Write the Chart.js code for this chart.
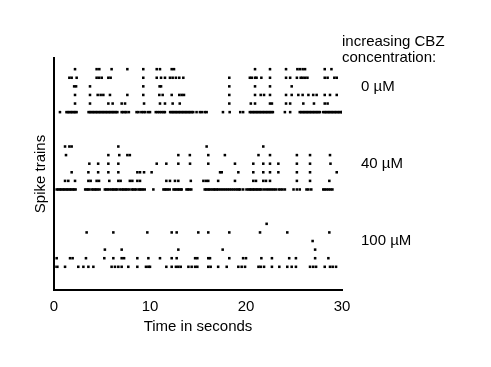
<!DOCTYPE html>
<html>
<head>
<meta charset="utf-8">
<script src="https://cdn.jsdelivr.net/npm/chart.js@4.4.1/dist/chart.umd.min.js"></script>
<style>
  html, body { margin: 0; padding: 0; background: #fff; }
  #wrap { width: 491px; height: 367px; }
</style>
</head>
<body>
<div id="wrap"><canvas id="raster"></canvas></div>
<script>
// Spike times (seconds), top train of each block first
const spikes0uM = [
    [2.19, 4.44, 4.72, 6.0, 7.64, 9.3, 10.7, 11.04, 12.26, 12.5, 20.94, 22.5, 24.17, 25.35, 25.6, 25.9, 26.15, 28.2, 28.9],
    [1.6, 1.84, 2.36, 4.44, 4.69, 4.97, 5.66, 5.9, 9.3, 10.7, 11.15, 11.56, 12.08, 12.36, 12.7, 13.05, 13.47, 18.26, 20.4, 20.6, 20.94, 21.1, 21.6, 22.5, 24.17, 24.6, 25.3, 25.7, 25.9, 26.15, 26.4, 28.2, 28.5, 29.2, 29.45],
    [2.1, 2.3, 3.75, 9.3, 11.0, 11.15, 18.26, 20.94, 22.5, 24.76],
    [2.19, 3.75, 4.55, 4.86, 5.14, 5.83, 7.64, 9.3, 10.97, 11.32, 12.26, 13.05, 13.3, 13.54, 18.26, 20.94, 21.53, 21.88, 22.5, 24.17, 24.76, 25.45, 25.9, 26.5, 27.0, 27.36, 28.2, 28.75, 29.45],
    [2.19, 3.75, 5.66, 6.11, 7.05, 7.4, 9.38, 11.04, 11.56, 12.36, 13.1, 18.26, 20.5, 20.94, 22.5, 22.7, 24.17, 24.6, 25.97, 27.08, 28.2, 28.5],
    [0.62, 1.3, 1.45, 1.6, 1.75, 1.9, 2.05, 2.2, 2.35,
     3.6, 3.75, 3.9, 4.05, 4.2, 4.35, 4.5, 4.65, 4.8, 4.95, 5.1, 5.25, 5.4, 5.55, 5.7, 5.85, 6.0, 6.15, 6.3, 6.45, 6.6,
     7.05, 7.2, 7.4, 7.55, 7.8, 8.6, 8.8, 9.1, 9.3, 9.5, 9.8, 10.0,
     10.6, 10.8, 11.0, 11.2, 11.4, 11.55,
     12.1, 12.25, 12.4, 12.55, 12.7, 12.85, 13.0, 13.15, 13.3, 13.45, 13.6, 13.75, 13.9, 14.05, 14.2, 14.35,
     14.5, 14.85, 15.2, 15.4, 15.7, 15.9, 17.6, 18.3, 19.4, 19.7,
     20.4, 20.55, 20.7, 20.85, 21.0, 21.15, 21.3, 21.45, 21.6, 21.75, 21.9, 22.05, 22.2, 22.35, 22.5, 22.65, 22.8,
     24.05, 24.6,
     25.6, 25.75, 25.9, 26.05, 26.2, 26.35, 26.5, 26.65, 26.8, 26.95, 27.1, 27.25, 27.4, 27.55, 27.7,
     28.05, 28.2, 28.35, 28.5, 28.65, 28.8, 28.95, 29.1, 29.25, 29.4, 29.55, 29.7, 29.85, 30.0]
];

const spikes40uM = [
    [1.15, 1.6, 1.84, 6.7, 15.9, 21.8],
    [1.25, 5.66, 6.8, 7.64, 7.9, 12.95, 14.15, 16.07, 17.8, 21.3, 22.5, 25.3, 26.67, 28.75],
    [3.68, 4.6, 5.66, 6.7, 10.7, 11.7, 12.95, 14.17, 16.07, 18.85, 20.76, 21.8, 22.5, 23.37, 25.3, 26.67, 28.8],
    [1.84, 3.58, 4.6, 5.66, 6.7, 8.68, 8.96, 9.38, 10.17, 17.3, 17.47, 19.2, 20.76, 21.8, 22.5, 23.37, 25.3, 26.67, 29.45],
    [1.15, 1.49, 2.19, 3.58, 3.82, 4.44, 4.69, 5.76, 6.7, 6.94, 7.9, 8.16, 8.68, 8.96, 11.7, 12.08, 12.6, 12.95, 14.25, 15.56, 15.83, 16.07, 17.1, 18.85, 20.76, 21.04, 21.8, 22.08, 22.5, 25.3, 26.67, 28.68],
    [0.28, 0.45, 0.6, 0.75, 0.9, 1.05, 1.2, 1.35, 1.5, 1.65, 1.8, 1.95, 2.1, 2.25,
     3.25, 3.4, 3.55, 3.7, 3.95, 4.1, 4.25, 4.4, 4.55, 4.75,
     5.3, 5.45, 5.6, 5.8, 6.0, 6.15, 6.3, 6.45, 6.6, 6.85,
     7.05, 7.2, 7.35, 7.5, 7.65, 7.85, 8.1, 8.25, 8.4, 8.55,
     8.8, 8.95, 9.1, 9.25, 9.45, 10.35,
     11.4, 11.55, 11.7, 11.85, 12.05, 12.45, 12.6, 12.75, 12.9, 13.05, 13.2, 13.3,
     13.8, 13.95, 14.1, 14.3,
     15.7, 15.85, 16.0, 16.15, 16.3, 16.5, 16.65, 16.8, 16.95,
     17.1, 17.3, 17.5, 17.7, 17.9, 18.1, 18.3, 18.5, 18.7, 18.9, 19.1, 19.25, 19.4,
     19.7, 20.05, 20.25, 20.4, 20.55, 20.7, 20.85, 21.0, 21.15, 21.3, 21.45,
     21.6, 21.85, 22.1, 22.3, 22.5, 22.7, 22.9, 23.1, 23.4, 23.6, 23.8, 24.05,
     24.95, 25.3, 25.6, 26.3, 26.5, 26.8,
     28.05, 28.2, 28.4, 28.6, 28.8, 29.0]
];

const spikes100uM = [
    [22.15],
    [3.4, 6.18, 9.72, 12.26, 12.78, 15.03, 16.07, 18.26, 21.46, 24.3, 28.68],
    [26.94],
    [5.3, 7.05, 12.95, 17.57, 27.2],
    [0.28, 1.67, 1.94, 3.33, 5.24, 6.18, 7.05, 7.3, 8.68, 9.83, 11.04, 12.26, 12.78, 14.7, 14.93, 16.07, 16.25, 18.26, 19.7, 20.0, 21.6, 22.7, 24.5, 25.2, 27.2, 28.58],
    [0.05, 0.35, 1.15, 2.53, 3.06, 3.58, 4.1, 6.0, 6.35, 6.7, 7.05, 7.74, 8.68, 9.58, 9.83, 10.0, 11.7, 12.26, 12.7, 12.95, 13.2, 14.0, 14.34, 14.7, 14.93, 16.07, 16.32, 17.1, 17.99, 19.2, 19.55, 19.9, 21.3, 21.53, 21.88, 22.7, 23.47, 24.3, 24.76, 25.2, 26.67, 27.0, 27.3, 28.2, 28.75, 29.03, 29.38]
];

const concentrations = ['0 µM', '40 µM', '100 µM'];
const groupBaseRow = [18, 9, 0];   // row index of the bottom train in each block
const xTicks = [0, 10, 20, 30];

const FONT = '"Liberation Sans", Arial, Helvetica, sans-serif';
Chart.defaults.font.family = FONT;
Chart.defaults.font.size = 15;
Chart.defaults.color = '#000';

// Turn each block of trains into scatter points (row index on y)
function toPoints(block, baseRow) {
    const pts = [];
    block.forEach((train, i) => {
        const row = baseRow + (block.length - 1 - i);
        train.forEach(t => pts.push({ x: t, y: row }));
    });
    return pts;
}

const blocks = [spikes0uM, spikes40uM, spikes100uM];

// Labels on the right of the raster
const sideLabels = {
    id: 'sideLabels',
    afterDraw(chart) {
        const ctx = chart.ctx;
        const yScale = chart.scales.y;
        const x = chart.chartArea.right;
        ctx.save();
        ctx.fillStyle = '#000';
        ctx.font = '15px ' + FONT;
        ctx.textAlign = 'left';
        ctx.textBaseline = 'alphabetic';
        ctx.fillText('increasing CBZ', x, 46);
        ctx.fillText('concentration:', x, 62);
        concentrations.forEach((label, i) => {
            const y = yScale.getPixelForValue(groupBaseRow[i] + 2.5);
            ctx.fillText(label, x + 19, y);
        });
        ctx.restore();
    }
};

new Chart(document.getElementById('raster'), {
    type: 'scatter',
    data: {
        datasets: blocks.map((block, i) => ({
            label: concentrations[i],
            data: toPoints(block, groupBaseRow[i]),
            pointStyle: 'rect',
            pointRadius: 1.8,
            pointBorderWidth: 0,
            backgroundColor: '#000',
            borderColor: '#000'
        }))
    },
    options: {
        responsive: true,
        maintainAspectRatio: false,
        animation: false,
        layout: {
            padding: { left: 28, top: 58, right: 149, bottom: 27 }
        },
        plugins: {
            legend: { display: false },
            tooltip: { enabled: false }
        },
        scales: {
            x: {
                type: 'linear',
                min: 0,
                max: 30,
                grid: { display: false, drawTicks: false },
                border: { color: '#000', width: 2 },
                ticks: { padding: 8, color: '#000', font: { size: 15 } },
                afterBuildTicks: s => { s.ticks = xTicks.map(v => ({ value: v })); },
                title: { display: true, text: 'Time in seconds', color: '#000', font: { size: 15 } },
                afterFit: s => { s.height = 50; }
            },
            y: {
                type: 'linear',
                min: -2.7,
                max: 24.3,
                grid: { display: false, drawTicks: false },
                border: { color: '#000', width: 2 },
                ticks: { display: false },
                title: { display: true, text: 'Spike trains', color: '#000', font: { size: 15 } },
                afterFit: s => { s.width = 26; }
            }
        }
    },
    plugins: [sideLabels]
});
</script>
</body>
</html>
